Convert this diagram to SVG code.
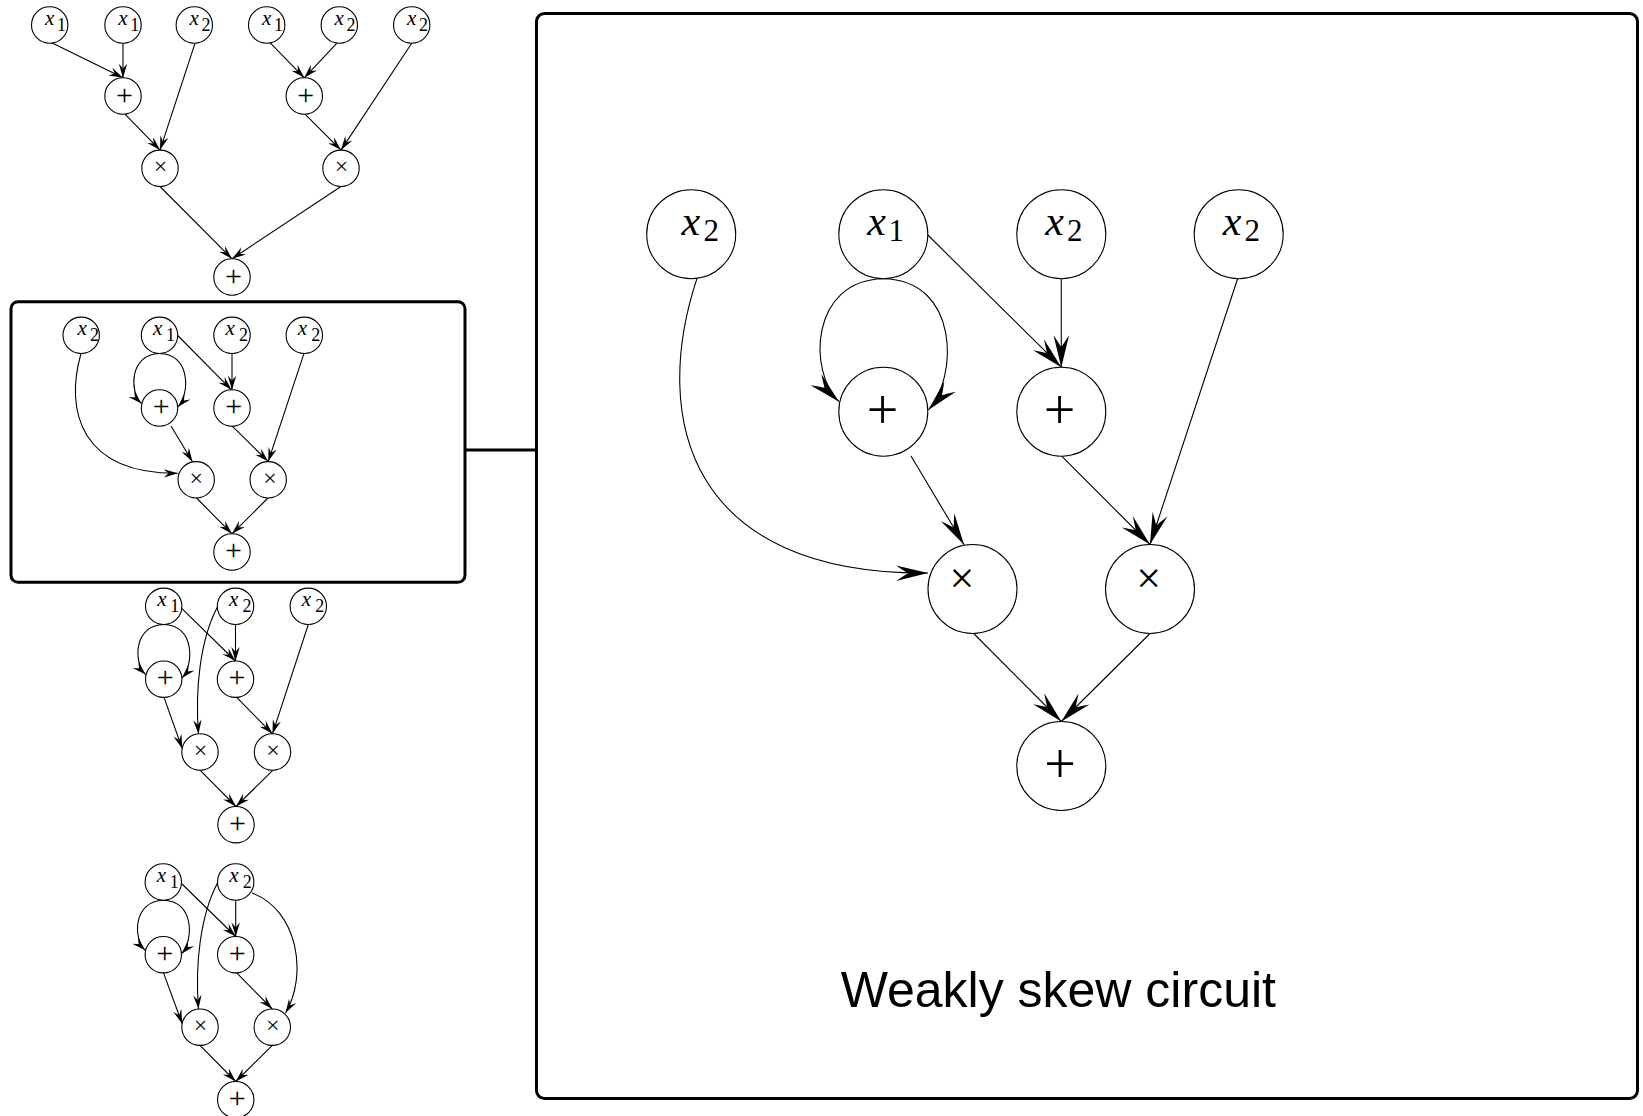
<svg xmlns="http://www.w3.org/2000/svg" width="1643" height="1116" viewBox="0 0 1643 1116">
<style>
  .n { fill: #fff; stroke: #000; stroke-width: 1.1; }
  .es { fill: none; stroke: #000; stroke-width: 1.1; marker-end: url(#ahs); }
  .eb { fill: none; stroke: #000; stroke-width: 1.1; marker-end: url(#ah); }
  .frame { fill: none; stroke: #000; stroke-width: 3; }
  text { fill: #000; }
  .mi { font-style: italic; }
  .xs { font-size: 21px; }
  .ss { font-size: 18px; }
  .xb { font-size: 42px; }
  .sb { font-size: 31px; }
  .op { text-anchor: middle; }
  .ops { font-size: 30px; }
  .tms { font-size: 24px; }
  .opb { font-size: 56px; }
  .tmb { font-size: 44px; }
  .title { font-size: 50px; text-anchor: middle; }
</style>
<defs>
  <marker id="ah" markerUnits="userSpaceOnUse" viewBox="-33 -9 34 18" refX="0" refY="0" markerWidth="34" markerHeight="18" orient="auto" overflow="visible">
    <path d="M0,0 L-32,-7.8 Q-25,-3 -20,0 Q-25,3 -32,7.8 Z" fill="#000"/>
  </marker>
  <marker id="ahs" markerUnits="userSpaceOnUse" viewBox="-15 -5 16 10" refX="0" refY="0" markerWidth="16" markerHeight="10" orient="auto" overflow="visible">
    <path d="M0,0 L-14,-4.2 Q-11,-1.5 -9,0 Q-11,1.5 -14,4.2 Z" fill="#000"/>
  </marker>
</defs>
<rect width="1643" height="1116" fill="#fff"/>

<!-- frames and the link between the highlighted circuit and its enlargement -->
<g id="frames">
  <rect class="frame" x="11" y="301.7" width="454" height="280.6" rx="7"/>
  <rect class="frame" x="536.5" y="13.5" width="1101" height="1085" rx="8"/>
</g>
<g id="link">
  <line class="frame" x1="465" y1="450" x2="536.5" y2="450"/>
</g>

<g font-family="Liberation Serif, serif">
<!-- circuit 1 -->
<g id="c1-edges">
  <path class="es" d="M51.7,42.7 L123,77.8"/>
  <path class="es" d="M123,43.2 L123,77.8"/>
  <path class="es" d="M195,43.3 L160,150.1"/>
  <path class="es" d="M125,114.2 L160,150.1"/>
  <path class="es" d="M270,42.7 L304.3,77.8"/>
  <path class="es" d="M336.7,43.3 L304.3,77.8"/>
  <path class="es" d="M411.7,43.2 L341,150.1"/>
  <path class="es" d="M305,114.2 L341,150.1"/>
  <path class="es" d="M160,186.5 L232,258.8"/>
  <path class="es" d="M341,186.5 L232,258.8"/>
</g>
<g id="c1-a"><circle class="n" cx="49.7" cy="25" r="18.2"/><text><tspan class="mi xs" x="45" y="25">x</tspan><tspan class="ss" x="57" y="30.5">1</tspan></text></g>
<g id="c1-b"><circle class="n" cx="123" cy="25" r="18.2"/><text><tspan class="mi xs" x="118.3" y="25">x</tspan><tspan class="ss" x="130.3" y="30.5">1</tspan></text></g>
<g id="c1-c"><circle class="n" cx="194.3" cy="25" r="18.2"/><text><tspan class="mi xs" x="189.6" y="25">x</tspan><tspan class="ss" x="201.6" y="30.5">2</tspan></text></g>
<g id="c1-d"><circle class="n" cx="266.7" cy="25" r="18.2"/><text><tspan class="mi xs" x="262" y="25">x</tspan><tspan class="ss" x="274" y="30.5">1</tspan></text></g>
<g id="c1-e"><circle class="n" cx="339.3" cy="25" r="18.2"/><text><tspan class="mi xs" x="334.6" y="25">x</tspan><tspan class="ss" x="346.6" y="30.5">2</tspan></text></g>
<g id="c1-f"><circle class="n" cx="411.7" cy="25" r="18.2"/><text><tspan class="mi xs" x="407" y="25">x</tspan><tspan class="ss" x="419" y="30.5">2</tspan></text></g>
<g id="c1-p1"><circle class="n" cx="123" cy="96" r="18.2"/><text class="op ops" x="124.5" y="104.6">+</text></g>
<g id="c1-p2"><circle class="n" cx="304.3" cy="96" r="18.2"/><text class="op ops" x="305.8" y="104.6">+</text></g>
<g id="c1-t1"><circle class="n" cx="160" cy="168.3" r="18.2"/><text class="op tms" x="160.5" y="174.3">×</text></g>
<g id="c1-t2"><circle class="n" cx="341" cy="168.3" r="18.2"/><text class="op tms" x="341.5" y="174.3">×</text></g>
<g id="c1-s"><circle class="n" cx="232" cy="277" r="18.2"/><text class="op ops" x="233.5" y="285.6">+</text></g>

<!-- circuit 2 (boxed) -->
<g id="c2-edges">
  <path class="es" d="M81,353.5 C64.5,411 80.8,474 177.8,473.3"/>
  <path class="es" d="M159.5,353.5 C129.7,354 128.9,391.5 141.5,403.6"/>
  <path class="es" d="M159.5,353.5 C190.8,354 190,393.9 177.9,407"/>
  <path class="es" d="M177.7,335.5 L231.5,389.8"/>
  <path class="es" d="M232,353.5 L232,389.8"/>
  <path class="es" d="M304,353.4 L268.2,461.6"/>
  <path class="es" d="M171,426 L192.5,461.8"/>
  <path class="es" d="M232.2,426.2 L268.2,461.6"/>
  <path class="es" d="M196.5,498 L232,533.8"/>
  <path class="es" d="M268,498 L232,533.8"/>
</g>
<g id="c2-a"><circle class="n" cx="81.2" cy="335.3" r="18.2"/><text><tspan class="mi xs" x="77.5" y="335.3">x</tspan><tspan class="ss" x="90" y="341.3">2</tspan></text></g>
<g id="c2-b"><circle class="n" cx="159.5" cy="335.3" r="18.2"/><text><tspan class="mi xs" x="153" y="335.3">x</tspan><tspan class="ss" x="166" y="341.3">1</tspan></text></g>
<g id="c2-c"><circle class="n" cx="232" cy="335.3" r="18.2"/><text><tspan class="mi xs" x="225.5" y="335.3">x</tspan><tspan class="ss" x="239" y="341.3">2</tspan></text></g>
<g id="c2-d"><circle class="n" cx="304.3" cy="335.3" r="18.2"/><text><tspan class="mi xs" x="297.8" y="335.3">x</tspan><tspan class="ss" x="311.3" y="341.3">2</tspan></text></g>
<g id="c2-p1"><circle class="n" cx="159.5" cy="408" r="18.2"/><text class="op ops" x="161.2" y="415.6">+</text></g>
<g id="c2-p2"><circle class="n" cx="232" cy="408" r="18.2"/><text class="op ops" x="233.7" y="415.6">+</text></g>
<g id="c2-t1"><circle class="n" cx="196.2" cy="479.8" r="18.2"/><text class="op tms" x="196.2" y="485.5">×</text></g>
<g id="c2-t2"><circle class="n" cx="268.2" cy="479.8" r="18.2"/><text class="op tms" x="270" y="485.5">×</text></g>
<g id="c2-s"><circle class="n" cx="232" cy="552" r="18.2"/><text class="op ops" x="233.5" y="560.2">+</text></g>

<!-- circuit 3 -->
<g id="c3-edges">
  <path class="es" d="M163.7,624.5 C133.8,625 133,662.5 145.6,674.6"/>
  <path class="es" d="M163.7,624.5 C194.9,625 194.1,664.9 182,678"/>
  <path class="es" d="M181.7,608.3 L235.5,661"/>
  <path class="es" d="M235.5,624.5 L235.5,661"/>
  <path class="es" d="M217.4,607 C200,640 195,690 198.5,733.9"/>
  <path class="es" d="M308.3,624.5 L272.5,733.8"/>
  <path class="es" d="M164,697.4 L182.2,748.5"/>
  <path class="es" d="M236.7,697.3 L272.5,733.8"/>
  <path class="es" d="M200,770.2 L236,806.5"/>
  <path class="es" d="M273,770.2 L236,806.5"/>
</g>
<g id="c3-a"><circle class="n" cx="163.7" cy="606.3" r="18.2"/><text><tspan class="mi xs" x="157.2" y="606.3">x</tspan><tspan class="ss" x="170.2" y="612.3">1</tspan></text></g>
<g id="c3-b"><circle class="n" cx="235.5" cy="606.3" r="18.2"/><text><tspan class="mi xs" x="229" y="606.3">x</tspan><tspan class="ss" x="242.5" y="612.3">2</tspan></text></g>
<g id="c3-c"><circle class="n" cx="308.3" cy="606.3" r="18.2"/><text><tspan class="mi xs" x="301.8" y="606.3">x</tspan><tspan class="ss" x="315.3" y="612.3">2</tspan></text></g>
<g id="c3-p1"><circle class="n" cx="163.7" cy="679.2" r="18.2"/><text class="op ops" x="165.2" y="687.2">+</text></g>
<g id="c3-p2"><circle class="n" cx="235.5" cy="679.2" r="18.2"/><text class="op ops" x="237" y="687.2">+</text></g>
<g id="c3-t1"><circle class="n" cx="200" cy="752" r="18.2"/><text class="op tms" x="200.5" y="758">×</text></g>
<g id="c3-t2"><circle class="n" cx="272.5" cy="752" r="18.2"/><text class="op tms" x="273" y="758">×</text></g>
<g id="c3-s"><circle class="n" cx="236" cy="824.7" r="18.2"/><text class="op ops" x="237.5" y="832.7">+</text></g>

<!-- circuit 4 -->
<g id="c4-edges">
  <path class="es" d="M163.3,900.2 C133.4,900.7 132.6,938.2 145.2,950.3"/>
  <path class="es" d="M163.3,900.2 C194.5,900.7 193.7,940.6 181.6,953.7"/>
  <path class="es" d="M181.5,883.5 L235.7,936.5"/>
  <path class="es" d="M235.7,900.2 L235.7,936.5"/>
  <path class="es" d="M217.5,883 C200,916 195,966 198.5,1009.1"/>
  <path class="es" d="M252,893 C298,910 308,975 285.5,1013"/>
  <path class="es" d="M163.5,972.9 L182.2,1023.7"/>
  <path class="es" d="M236.7,972.9 L272.3,1009"/>
  <path class="es" d="M200,1045.4 L235.7,1081.5"/>
  <path class="es" d="M272.3,1045.4 L235.7,1081.5"/>
</g>
<g id="c4-a"><circle class="n" cx="163.3" cy="882" r="18.2"/><text><tspan class="mi xs" x="156.8" y="882">x</tspan><tspan class="ss" x="169.8" y="888">1</tspan></text></g>
<g id="c4-b"><circle class="n" cx="235.7" cy="882" r="18.2"/><text><tspan class="mi xs" x="229.2" y="882">x</tspan><tspan class="ss" x="242.7" y="888">2</tspan></text></g>
<g id="c4-p1"><circle class="n" cx="163.3" cy="954.7" r="18.2"/><text class="op ops" x="164.8" y="962.7">+</text></g>
<g id="c4-p2"><circle class="n" cx="235.7" cy="954.7" r="18.2"/><text class="op ops" x="237.2" y="962.7">+</text></g>
<g id="c4-t1"><circle class="n" cx="200" cy="1027.2" r="18.2"/><text class="op tms" x="200.5" y="1033.2">×</text></g>
<g id="c4-t2"><circle class="n" cx="272.3" cy="1027.2" r="18.2"/><text class="op tms" x="272.8" y="1033.2">×</text></g>
<g id="c4-s"><circle class="n" cx="235.7" cy="1099.7" r="18.2"/><text class="op ops" x="237.2" y="1107.7">+</text></g>

<!-- enlarged weakly skew circuit -->
<g id="big-edges">
  <path class="eb" d="M697,278.3 C650,420 690,575 928,573"/>
  <path class="eb" d="M883.3,278.7 C810,280 808,372 839,401.7"/>
  <path class="eb" d="M883.3,278.7 C960,280 958,378 928.3,410"/>
  <path class="eb" d="M927.8,235 L1061.3,367.2"/>
  <path class="eb" d="M1061.3,278.7 L1061.3,367.2"/>
  <path class="eb" d="M1237.7,278.5 L1150,544.5"/>
  <path class="eb" d="M911,456 L964,544.8"/>
  <path class="eb" d="M1061.7,456.2 L1150,544.5"/>
  <path class="eb" d="M973.7,633.5 L1061.3,721.5"/>
  <path class="eb" d="M1150,633.5 L1061.3,721.5"/>
</g>
<g id="big-a"><circle class="n" cx="691.2" cy="234.2" r="44.5"/><text><tspan class="mi xb" x="681.5" y="235.2">x</tspan><tspan class="sb" x="703.5" y="241.2">2</tspan></text></g>
<g id="big-b"><circle class="n" cx="883.3" cy="234.2" r="44.5"/><text><tspan class="mi xb" x="867.3" y="235.2">x</tspan><tspan class="sb" x="888.5" y="241.2">1</tspan></text></g>
<g id="big-c"><circle class="n" cx="1061.3" cy="234.2" r="44.5"/><text><tspan class="mi xb" x="1045.3" y="235.2">x</tspan><tspan class="sb" x="1067" y="241.2">2</tspan></text></g>
<g id="big-d"><circle class="n" cx="1238.7" cy="234.2" r="44.5"/><text><tspan class="mi xb" x="1222.7" y="235.2">x</tspan><tspan class="sb" x="1244.4" y="241.2">2</tspan></text></g>
<g id="big-p1"><circle class="n" cx="883.3" cy="411.7" r="44.5"/><text class="op opb" x="882.5" y="428.7">+</text></g>
<g id="big-p2"><circle class="n" cx="1061.3" cy="411.7" r="44.5"/><text class="op opb" x="1059.5" y="428.5">+</text></g>
<g id="big-t1"><circle class="n" cx="972.5" cy="589" r="44.5"/><text class="op tmb" x="962" y="593.4">×</text></g>
<g id="big-t2"><circle class="n" cx="1150" cy="589" r="44.5"/><text class="op tmb" x="1148.6" y="593.4">×</text></g>
<g id="big-s"><circle class="n" cx="1061.3" cy="766" r="44.5"/><text class="op opb" x="1060" y="782.7">+</text></g>
</g>

<text class="title" font-family="Liberation Sans, Arial, sans-serif" x="1058.3" y="1007">Weakly skew circuit</text>
</svg>
